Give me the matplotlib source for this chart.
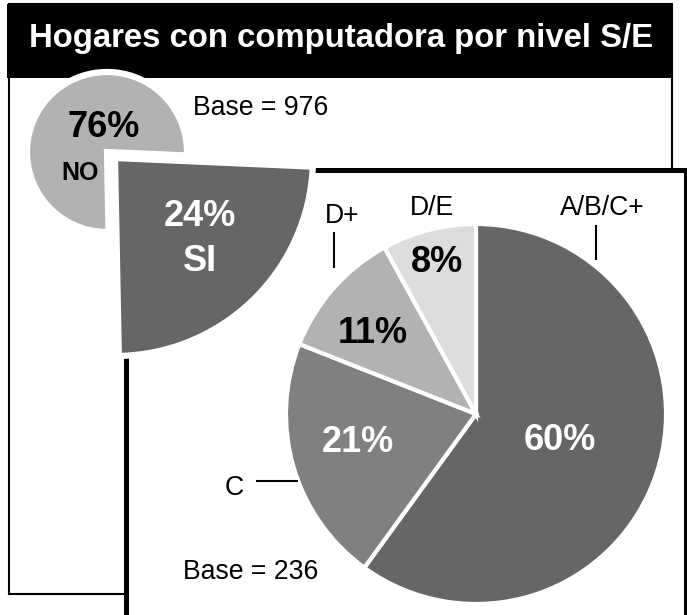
import matplotlib.pyplot as plt
from matplotlib.patches import Rectangle

plt.rcParams['font.family'] = ['Liberation Sans', 'DejaVu Sans']

# Data
title = "Hogares con computadora por nivel S/E"
tiene_labels = ["SI", "NO"]
tiene_values = [24, 76]
tiene_base = 976

nivel_labels = ["A/B/C+", "C", "D+", "D/E"]
nivel_values = [60, 21, 11, 8]
nivel_base = 236

W, H = 687, 615
fig = plt.figure(figsize=(W / 100, H / 100), dpi=100)
ax = fig.add_axes([0, 0, 1, 1])

# Frames (pixel coordinates, y grows downward)
ax.add_patch(Rectangle((9, 4), 663, 590, fill=False, ec='black', lw=1.5, zorder=1))
ax.add_patch(Rectangle((7, 4), 666, 74, fc='black', ec='none', zorder=2))
ax.add_patch(Rectangle((125.5, 169.5), 560, 470, fc='white', ec='black', lw=3.6, zorder=3))

ax.text(341, 47, title, color='white', fontsize=23.7, fontweight='bold',
        ha='center', va='baseline', zorder=10)

# Small pie: SI / NO (y axis inverted, so counterclock in data = clockwise on screen)
small, _ = ax.pie(tiene_values, colors=['#666666', '#b2b2b2'], startangle=2.5,
                  counterclock=True, center=(107, 152), radius=80, frame=True,
                  wedgeprops=dict(edgecolor='white', linewidth=4.5))
small[1].set_zorder(2.5)
# SI slice pulled out and enlarged
small[0].set_center((115, 158))
small[0].set_radius(198)
small[0].set_zorder(4)

ax.text(104, 137, f"{tiene_values[1]}%", fontsize=26, fontweight='bold',
        ha='center', va='baseline', zorder=10)
ax.text(80, 180, tiene_labels[1], fontsize=18, fontweight='bold',
        ha='center', va='baseline', zorder=10)
ax.text(200, 226, f"{tiene_values[0]}%", color='white', fontsize=26,
        fontweight='bold', ha='center', va='baseline', zorder=10)
ax.text(200, 271, tiene_labels[0], color='white', fontsize=26,
        fontweight='bold', ha='center', va='baseline', zorder=10)
ax.text(193, 115, f"Base = {tiene_base}", fontsize=19.2, ha='left',
        va='baseline', zorder=10)

# Big pie: nivel S/E
big, _ = ax.pie(nivel_values, colors=['#666666', '#808080', '#b2b2b2', '#dddddd'],
                startangle=-90, counterclock=True, center=(476, 414), radius=190,
                frame=True, wedgeprops=dict(edgecolor='white', linewidth=3))
for w in big:
    w.set_zorder(5)

pct_pos = [(560, 450, 'white'), (358, 452, 'white'), (373, 343, 'black'), (437, 272, 'black')]
for v, (x, y, c) in zip(nivel_values, pct_pos):
    ax.text(x, y, f"{v}%", color=c, fontsize=26, fontweight='bold',
            ha='center', va='baseline', zorder=10)

lab_pos = [(602, 215), (234.5, 495), (342, 223), (432, 215)]
for lab, (x, y) in zip(nivel_labels, lab_pos):
    ax.text(x, y, lab, fontsize=19.2, ha='center', va='baseline', zorder=10)

# leader ticks
ax.plot([596, 596], [226, 259], color='black', lw=1.5, zorder=10)
ax.plot([334, 334], [233, 267], color='black', lw=1.5, zorder=10)
ax.plot([257, 297], [481, 481], color='black', lw=1.5, zorder=10)

ax.text(183, 579, f"Base = {nivel_base}", fontsize=19.2, ha='left',
        va='baseline', zorder=10)

ax.set_xlim(0, W)
ax.set_ylim(H, 0)
ax.set_aspect('auto')
ax.axis('off')

fig.savefig('out.png', dpi=100, facecolor='white')
